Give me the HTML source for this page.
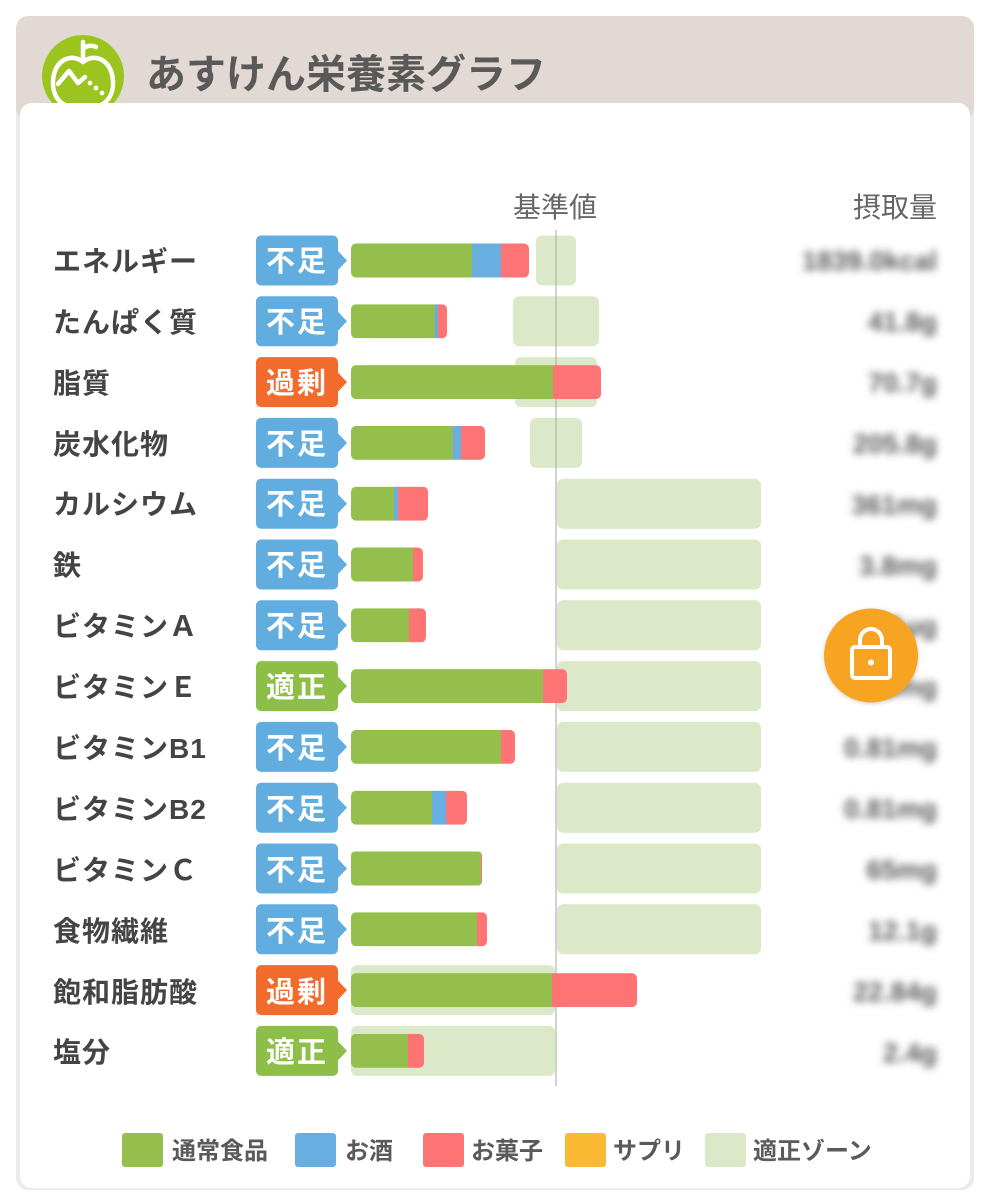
<!DOCTYPE html>
<html><head><meta charset="utf-8">
<style>
html,body{margin:0;padding:0;background:#fff;}
svg{display:block;}
text{font-family:"Liberation Sans","Noto Sans CJK JP",sans-serif;}
</style></head>
<body>
<svg width="991" height="1200" viewBox="0 0 991 1200" xmlns="http://www.w3.org/2000/svg">
<defs>
<filter id="bl" x="-20%" y="-60%" width="140%" height="220%"><feGaussianBlur stdDeviation="4"/></filter>
<filter id="sh" x="-30%" y="-30%" width="160%" height="160%"><feDropShadow dx="0" dy="1" stdDeviation="2" flood-color="#000" flood-opacity="0.18"/></filter>
</defs>
<!-- outer card -->
<rect x="16" y="16" width="958" height="1174" rx="12" fill="#ebebeb"/>
<rect x="16" y="16" width="958" height="104" rx="12" fill="#e3d9d4"/>
<!-- logo -->
<circle cx="83" cy="76" r="41" fill="#9cc41f"/>
<g fill="none" stroke="#fff" stroke-width="4.5" stroke-linecap="round" stroke-linejoin="round">
<path d="M64 60 C52 67 50 87 57 98 C63 107 74 109 83 105 C92 109 103 107 109 98 C116 87 114 67 102 60 C95 56 88 58 83 62 C78 58 71 56 64 60"/>
<path d="M83 61 V42"/>
<path d="M84 48 Q90 44 96 47"/>
<path d="M58 84 L69 71 L78 83 L85 77"/>
</g>
<circle cx="90" cy="83" r="2.4" fill="#fff"/><circle cx="96" cy="88" r="2.4" fill="#fff"/><circle cx="102" cy="93" r="2.4" fill="#fff"/>
<text x="146" y="88" font-size="40" font-weight="bold" fill="#595959">あすけん栄養素グラフ</text>
<!-- white card -->
<rect x="20" y="103" width="950" height="1085" rx="12" fill="#fff"/>

<!-- headers -->
<text x="555" y="217" font-size="28" fill="#666" text-anchor="middle">基準値</text>
<text x="937" y="217" font-size="28" fill="#666" text-anchor="end">摂取量</text>

<!-- zones -->
<g fill="#dce9c9">
<rect x="536" y="235.5" width="40" height="50" rx="6"/>
<rect x="513" y="296.3" width="86" height="50" rx="6"/>
<rect x="515" y="357.1" width="82" height="50" rx="6"/>
<rect x="530" y="417.9" width="52" height="50" rx="6"/>
<rect x="557" y="478.7" width="204" height="50" rx="6"/>
<rect x="557" y="539.5" width="204" height="50" rx="6"/>
<rect x="557" y="600.3" width="204" height="50" rx="6"/>
<rect x="557" y="661.1" width="204" height="50" rx="6"/>
<rect x="557" y="721.9" width="204" height="50" rx="6"/>
<rect x="557" y="782.7" width="204" height="50" rx="6"/>
<rect x="557" y="843.5" width="204" height="50" rx="6"/>
<rect x="557" y="904.3" width="204" height="50" rx="6"/>
<rect x="351" y="965.1" width="204" height="50" rx="6"/>
<rect x="351" y="1025.9" width="204" height="50" rx="6"/>
</g>

<!-- vertical baseline -->
<line x1="556" y1="230" x2="556" y2="1086" stroke="#b3b3b3" stroke-width="1.2"/>

<!-- bars -->
<g>
<clipPath id="c1"><rect x="351" y="243.5" width="178" height="34" rx="5"/></clipPath>
<g clip-path="url(#c1)"><rect x="351" y="243.5" width="121" height="34" fill="#94bf4c"/><rect x="472" y="243.5" width="29" height="34" fill="#69aee0"/><rect x="501" y="243.5" width="28" height="34" fill="#fe7475"/></g>
<clipPath id="c2"><rect x="351" y="304.3" width="96" height="34" rx="5"/></clipPath>
<g clip-path="url(#c2)"><rect x="351" y="304.3" width="84" height="34" fill="#94bf4c"/><rect x="435" y="304.3" width="3" height="34" fill="#69aee0"/><rect x="438" y="304.3" width="9" height="34" fill="#fe7475"/></g>
<clipPath id="c3"><rect x="351" y="365.1" width="250" height="34" rx="5"/></clipPath>
<g clip-path="url(#c3)"><rect x="351" y="365.1" width="202" height="34" fill="#94bf4c"/><rect x="553" y="365.1" width="48" height="34" fill="#fe7475"/></g>
<clipPath id="c4"><rect x="351" y="425.9" width="134" height="34" rx="5"/></clipPath>
<g clip-path="url(#c4)"><rect x="351" y="425.9" width="102" height="34" fill="#94bf4c"/><rect x="453" y="425.9" width="8" height="34" fill="#69aee0"/><rect x="461" y="425.9" width="24" height="34" fill="#fe7475"/></g>
<clipPath id="c5"><rect x="351" y="486.7" width="77" height="34" rx="5"/></clipPath>
<g clip-path="url(#c5)"><rect x="351" y="486.7" width="43" height="34" fill="#94bf4c"/><rect x="394" y="486.7" width="4" height="34" fill="#69aee0"/><rect x="398" y="486.7" width="30" height="34" fill="#fe7475"/></g>
<clipPath id="c6"><rect x="351" y="547.5" width="72" height="34" rx="5"/></clipPath>
<g clip-path="url(#c6)"><rect x="351" y="547.5" width="62" height="34" fill="#94bf4c"/><rect x="413" y="547.5" width="10" height="34" fill="#fe7475"/></g>
<clipPath id="c7"><rect x="351" y="608.3" width="75" height="34" rx="5"/></clipPath>
<g clip-path="url(#c7)"><rect x="351" y="608.3" width="58" height="34" fill="#94bf4c"/><rect x="409" y="608.3" width="17" height="34" fill="#fe7475"/></g>
<clipPath id="c8"><rect x="351" y="669.1" width="216" height="34" rx="5"/></clipPath>
<g clip-path="url(#c8)"><rect x="351" y="669.1" width="192" height="34" fill="#94bf4c"/><rect x="543" y="669.1" width="24" height="34" fill="#fe7475"/></g>
<clipPath id="c9"><rect x="351" y="729.9" width="164" height="34" rx="5"/></clipPath>
<g clip-path="url(#c9)"><rect x="351" y="729.9" width="150" height="34" fill="#94bf4c"/><rect x="501" y="729.9" width="14" height="34" fill="#fe7475"/></g>
<clipPath id="c10"><rect x="351" y="790.7" width="116" height="34" rx="5"/></clipPath>
<g clip-path="url(#c10)"><rect x="351" y="790.7" width="81" height="34" fill="#94bf4c"/><rect x="432" y="790.7" width="14" height="34" fill="#69aee0"/><rect x="446" y="790.7" width="21" height="34" fill="#fe7475"/></g>
<clipPath id="c11"><rect x="351" y="851.5" width="131" height="34" rx="4"/></clipPath>
<g clip-path="url(#c11)"><rect x="351" y="851.5" width="130" height="34" fill="#94bf4c"/><rect x="481" y="851.5" width="1.5" height="34" fill="#fe7475"/></g>
<clipPath id="c12"><rect x="351" y="912.3" width="136" height="34" rx="5"/></clipPath>
<g clip-path="url(#c12)"><rect x="351" y="912.3" width="126" height="34" fill="#94bf4c"/><rect x="477" y="912.3" width="10" height="34" fill="#fe7475"/></g>
<clipPath id="c13"><rect x="351" y="973.1" width="286" height="34" rx="5"/></clipPath>
<g clip-path="url(#c13)"><rect x="351" y="973.1" width="201" height="34" fill="#94bf4c"/><rect x="552" y="973.1" width="85" height="34" fill="#fe7475"/></g>
<clipPath id="c14"><rect x="351" y="1033.9" width="73" height="34" rx="5"/></clipPath>
<g clip-path="url(#c14)"><rect x="351" y="1033.9" width="57" height="34" fill="#94bf4c"/><rect x="408" y="1033.9" width="16" height="34" fill="#fe7475"/></g>
</g>

<!-- row labels -->
<g font-size="28" font-weight="bold" fill="#444" letter-spacing="1">
<text x="53" y="271">エネルギー</text>
<text x="53" y="332">たんぱく質</text>
<text x="53" y="393">脂質</text>
<text x="53" y="454">炭水化物</text>
<text x="53" y="514">カルシウム</text>
<text x="53" y="575">鉄</text>
<text x="53" y="636">ビタミンＡ</text>
<text x="53" y="697">ビタミンＥ</text>
<text x="53" y="758">ビタミンB1</text>
<text x="53" y="819">ビタミンB2</text>
<text x="53" y="880">ビタミンＣ</text>
<text x="53" y="941">食物繊維</text>
<text x="53" y="1002">飽和脂肪酸</text>
<text x="53" y="1062">塩分</text>
</g>

<!-- badges -->
<g>
<g fill="#62ade0">
<path d="M261 235.5 H333 a5 5 0 0 1 5 5 V251 L347 260.5 L338 270 V280.5 a5 5 0 0 1 -5 5 H261 a5 5 0 0 1 -5 -5 V240.5 a5 5 0 0 1 5 -5Z"/>
<path transform="translate(0,60.8)" d="M261 235.5 H333 a5 5 0 0 1 5 5 V251 L347 260.5 L338 270 V280.5 a5 5 0 0 1 -5 5 H261 a5 5 0 0 1 -5 -5 V240.5 a5 5 0 0 1 5 -5Z"/>
<path transform="translate(0,182.4)" d="M261 235.5 H333 a5 5 0 0 1 5 5 V251 L347 260.5 L338 270 V280.5 a5 5 0 0 1 -5 5 H261 a5 5 0 0 1 -5 -5 V240.5 a5 5 0 0 1 5 -5Z"/>
<path transform="translate(0,243.2)" d="M261 235.5 H333 a5 5 0 0 1 5 5 V251 L347 260.5 L338 270 V280.5 a5 5 0 0 1 -5 5 H261 a5 5 0 0 1 -5 -5 V240.5 a5 5 0 0 1 5 -5Z"/>
<path transform="translate(0,304)" d="M261 235.5 H333 a5 5 0 0 1 5 5 V251 L347 260.5 L338 270 V280.5 a5 5 0 0 1 -5 5 H261 a5 5 0 0 1 -5 -5 V240.5 a5 5 0 0 1 5 -5Z"/>
<path transform="translate(0,364.8)" d="M261 235.5 H333 a5 5 0 0 1 5 5 V251 L347 260.5 L338 270 V280.5 a5 5 0 0 1 -5 5 H261 a5 5 0 0 1 -5 -5 V240.5 a5 5 0 0 1 5 -5Z"/>
<path transform="translate(0,486.4)" d="M261 235.5 H333 a5 5 0 0 1 5 5 V251 L347 260.5 L338 270 V280.5 a5 5 0 0 1 -5 5 H261 a5 5 0 0 1 -5 -5 V240.5 a5 5 0 0 1 5 -5Z"/>
<path transform="translate(0,547.2)" d="M261 235.5 H333 a5 5 0 0 1 5 5 V251 L347 260.5 L338 270 V280.5 a5 5 0 0 1 -5 5 H261 a5 5 0 0 1 -5 -5 V240.5 a5 5 0 0 1 5 -5Z"/>
<path transform="translate(0,608)" d="M261 235.5 H333 a5 5 0 0 1 5 5 V251 L347 260.5 L338 270 V280.5 a5 5 0 0 1 -5 5 H261 a5 5 0 0 1 -5 -5 V240.5 a5 5 0 0 1 5 -5Z"/>
<path transform="translate(0,668.8)" d="M261 235.5 H333 a5 5 0 0 1 5 5 V251 L347 260.5 L338 270 V280.5 a5 5 0 0 1 -5 5 H261 a5 5 0 0 1 -5 -5 V240.5 a5 5 0 0 1 5 -5Z"/>
</g>
<g fill="#f36b2c">
<path transform="translate(0,121.6)" d="M261 235.5 H333 a5 5 0 0 1 5 5 V251 L347 260.5 L338 270 V280.5 a5 5 0 0 1 -5 5 H261 a5 5 0 0 1 -5 -5 V240.5 a5 5 0 0 1 5 -5Z"/>
<path transform="translate(0,729.6)" d="M261 235.5 H333 a5 5 0 0 1 5 5 V251 L347 260.5 L338 270 V280.5 a5 5 0 0 1 -5 5 H261 a5 5 0 0 1 -5 -5 V240.5 a5 5 0 0 1 5 -5Z"/>
</g>
<g fill="#8dbf48">
<path transform="translate(0,425.6)" d="M261 235.5 H333 a5 5 0 0 1 5 5 V251 L347 260.5 L338 270 V280.5 a5 5 0 0 1 -5 5 H261 a5 5 0 0 1 -5 -5 V240.5 a5 5 0 0 1 5 -5Z"/>
<path transform="translate(0,790.4)" d="M261 235.5 H333 a5 5 0 0 1 5 5 V251 L347 260.5 L338 270 V280.5 a5 5 0 0 1 -5 5 H261 a5 5 0 0 1 -5 -5 V240.5 a5 5 0 0 1 5 -5Z"/>
</g>
</g>
<g font-size="29" font-weight="bold" fill="#fff" text-anchor="middle" letter-spacing="2">
<text x="297" y="271">不足</text>
<text x="297" y="332">不足</text>
<text x="297" y="393">過剰</text>
<text x="297" y="454">不足</text>
<text x="297" y="514">不足</text>
<text x="297" y="575">不足</text>
<text x="297" y="636">不足</text>
<text x="297" y="697">適正</text>
<text x="297" y="758">不足</text>
<text x="297" y="819">不足</text>
<text x="297" y="880">不足</text>
<text x="297" y="941">不足</text>
<text x="297" y="1002">過剰</text>
<text x="297" y="1062">適正</text>
</g>

<!-- blurred intake values -->
<g font-size="27" font-weight="bold" fill="#5a5a5a" text-anchor="end" filter="url(#bl)">
<text x="937" y="270">1839.0kcal</text>
<text x="937" y="331">41.8g</text>
<text x="937" y="392">70.7g</text>
<text x="937" y="453">205.8g</text>
<text x="937" y="514">361mg</text>
<text x="937" y="575">3.8mg</text>
<text x="937" y="635">451µg</text>
<text x="937" y="696">4.5mg</text>
<text x="937" y="757">0.81mg</text>
<text x="937" y="818">0.81mg</text>
<text x="937" y="879">65mg</text>
<text x="937" y="940">12.1g</text>
<text x="937" y="1001">22.84g</text>
<text x="937" y="1062">2.4g</text>
</g>

<!-- lock -->
<circle cx="871" cy="655.5" r="47" fill="#f6a420" filter="url(#sh)"/>
<g fill="none" stroke="#fff" stroke-width="4" stroke-linejoin="round">
<rect x="852" y="647" width="38" height="31" rx="3"/>
<path d="M860 647 V640 a11 11 0 0 1 22 0 V647"/>
</g>
<circle cx="871" cy="662.5" r="3" fill="#fff"/>

<!-- legend -->
<g>
<rect x="122" y="1133" width="41" height="34" rx="3" fill="#94bf4c"/>
<rect x="295" y="1133" width="41" height="34" rx="3" fill="#69aee0"/>
<rect x="423" y="1133" width="41" height="34" rx="3" fill="#fe7475"/>
<rect x="565" y="1133" width="41" height="34" rx="3" fill="#fbb934"/>
<rect x="705" y="1133" width="41" height="34" rx="3" fill="#dce9c9"/>
</g>
<g font-size="24" font-weight="bold" fill="#5a5a5a">
<text x="172" y="1159">通常食品</text>
<text x="345" y="1159">お酒</text>
<text x="471" y="1159">お菓子</text>
<text x="613" y="1159">サプリ</text>
<text x="753" y="1159">適正ゾーン</text>
</g>
</svg>
</body></html>
